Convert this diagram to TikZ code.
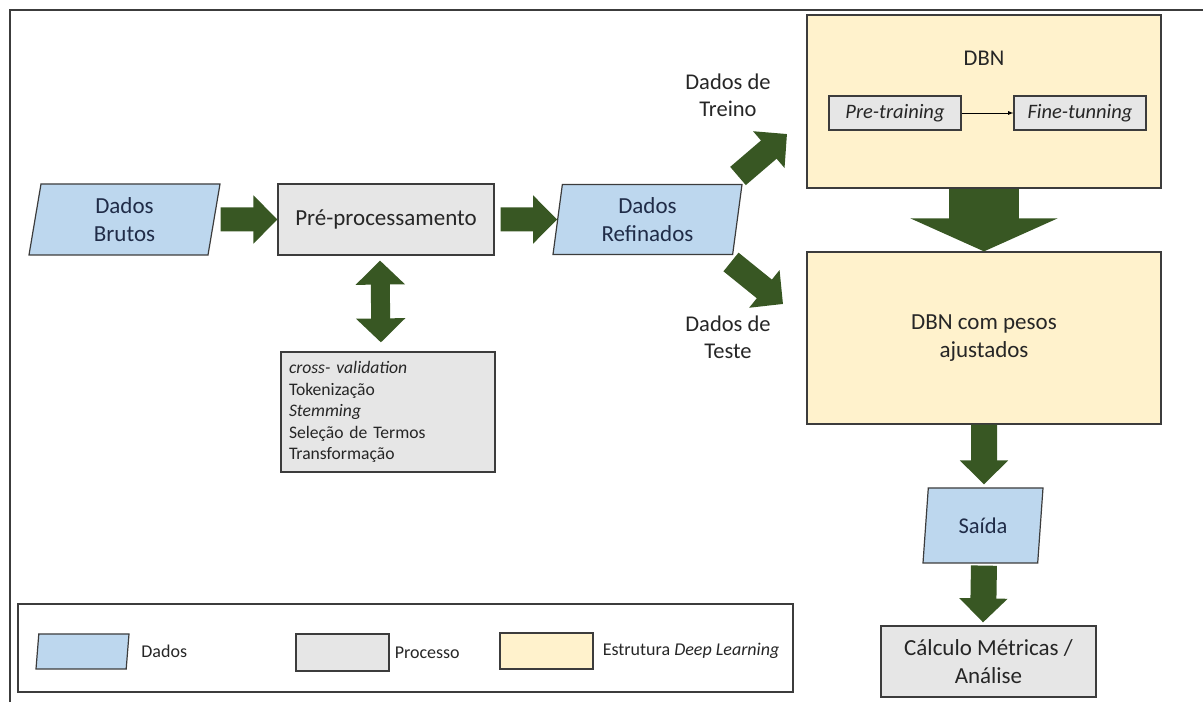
\documentclass[tikz,border=0pt]{standalone}
\usepackage{fontspec}
\setmainfont{Carlito}
\usepackage{tikz}
\usetikzlibrary{shapes.geometric, arrows, arrows.meta}
\definecolor{datablue}{RGB}{189,215,238}
\definecolor{procgray}{RGB}{230,230,230}
\definecolor{dlyellow}{RGB}{255,242,204}
\definecolor{arrowgreen}{RGB}{56,87,35}
\definecolor{edge}{RGB}{60,60,60}
\definecolor{datatext}{RGB}{32,44,72}
\definecolor{textgray}{RGB}{38,38,38}
\tikzstyle{dados} = [trapezium, trapezium left angle=76, trapezium right angle=104, trapezium stretches body, minimum width=191pt, minimum height=71pt, inner sep=2pt, align=center, draw=edge, line width=1.2pt, fill=datablue, text=datatext, font=\fontsize{23}{28}\selectfont]
\tikzstyle{processo} = [rectangle, minimum width=216pt, minimum height=71pt, inner sep=2pt, align=center, draw=edge, line width=1.2pt, fill=procgray, text=textgray, font=\fontsize{23}{28}\selectfont]
\tikzstyle{estrutura} = [rectangle, minimum width=354pt, minimum height=173pt, inner sep=2pt, align=center, draw=edge, line width=1.2pt, fill=dlyellow, text=textgray, font=\fontsize{23}{28}\selectfont]
\tikzstyle{etapa} = [rectangle, minimum width=132pt, minimum height=34pt, inner sep=2pt, draw=edge, line width=1.2pt, fill=procgray, text=textgray, font=\fontsize{20.5}{24}\selectfont\itshape]
\tikzstyle{rotulo} = [align=center, text=textgray, font=\fontsize{22.5}{27}\selectfont]
\tikzstyle{legenda} = [anchor=west, inner sep=3pt, text=textgray, font=\fontsize{18}{21}\selectfont]
\tikzstyle{arrow} = [thick, ->, >=latex, draw=black]
\tikzstyle{fatarrow} = [draw=arrowgreen, line width=24pt, -{Triangle[width=47pt, length=24pt]}]
\tikzstyle{fatboth} = [draw=arrowgreen, line width=19pt, {Triangle[width=48pt, length=24pt]}-{Triangle[width=48pt, length=24pt]}]

\begin{document}
\begin{tikzpicture} [x=1pt, y=1pt, node distance=261.5pt]
        \useasboundingbox (0,0) rectangle (1203,702);
        % moldura
        \coordinate (frameA) at (10,0);
        \coordinate (frameB) at (10,692);
        \coordinate (frameC) at (1203,692);
        \draw[edge, line width=1.5pt] (frameA) -- (frameB) -- (frameC);

        \node (brutos) [dados] at (124.5,482.5) {Dados\\Brutos};
        \node (pre) [processo, right of=brutos] {Pré-processamento};
        \node (ref) [dados, right of=pre, trapezium left angle=79, trapezium right angle=101, minimum width=189pt, minimum height=70pt] {Dados\\Refinados};
        \node (cv) [processo, below of=pre, xshift=2pt, yshift=69pt, minimum width=214pt, minimum height=120pt, text width=198pt, inner sep=8pt, align=left, font=\fontsize{17.6}{21.5}\selectfont] {\textit{cross- validation}\\Tokenização\\\textit{Stemming}\\Seleção de Termos\\Transformação};

        \node (dbn) [estrutura, right of=ref, xshift=75pt, yshift=118pt] {};
        \node (dbnlbl) [rotulo] at ([yshift=-44pt]dbn.north) {DBN};
        \node (pt) [etapa] at ([xshift=-89pt, yshift=-11.5pt]dbn.center) {Pre-training};
        \node (ft) [etapa] at ([xshift=96pt, yshift=-11.5pt]dbn.center) {Fine-tunning};
        \node (dbnw) [estrutura, below of=dbn, yshift=25pt, minimum height=172pt] {DBN com pesos\\ajustados};
        \node (saida) [dados, below of=dbnw, xshift=-1pt, yshift=74pt, trapezium left angle=75, trapezium right angle=105, minimum width=120pt, minimum height=75pt, font=\fontsize{22.5}{27}\selectfont] {Saída};
        \node (calc) [processo, below of=saida, xshift=5.5pt, yshift=125.5pt, minimum width=215pt] {Cálculo Métricas /\\Análise};

        \node (treino) [rotulo] at (728,607) {Dados de\\Treino};
        \node (teste) [rotulo] at (728,365) {Dados de\\Teste};
        \coordinate (trA) at (738,526);
        \coordinate (trB) at (787,568);
        \coordinate (teA) at (731,440);
        \coordinate (teB) at (783,398);

        % legenda
        \node (lgbox) [rectangle, draw=edge, line width=1.2pt, minimum width=775pt, minimum height=88pt] at (405.5,54) {};
        \node (lgdados) [dados, trapezium left angle=55, trapezium right angle=125, minimum width=93pt, minimum height=35pt] at (82.5,50.5) {};
        \node (lgproc) [processo, minimum width=93pt, minimum height=37pt] at (342.5,49.5) {};
        \node (lgdl) [estrutura, minimum width=93pt, minimum height=36pt] at (546.5,51) {};
        \node (lgt1) [legenda] at ([xshift=10pt]lgdados.east) {Dados};
        \node (lgt2) [legenda] at ([xshift=2pt]lgproc.east) {Processo};
        \node (lgt3) [legenda] at ([xshift=6pt]lgdl.east) {Estrutura \textit{Deep Learning}};

        \draw[fatarrow, shorten <=6pt] (brutos) -- (pre);
        \draw[fatarrow, shorten <=6pt] (pre) -- (ref);
        \draw[fatboth, shorten <=5pt, shorten >=9pt] ([xshift=-6pt]pre.south) -- ([xshift=-7pt]cv.north);
        \draw[fatarrow] (trA) -- (trB);
        \draw[fatarrow] (teA) -- (teB);
        \draw[arrow] (pt) -- (ft);
        \draw[draw=arrowgreen, line width=70pt, -{Triangle[width=146pt, length=33pt]}] (dbn) -- (dbnw);
        \draw[fatarrow, line width=26pt, shorten >=3pt] (dbnw) -- ([xshift=1pt]saida.north);
        \draw[fatarrow, line width=26pt, shorten <=2pt, shorten >=3pt] ([xshift=1pt]saida.south) -- ([xshift=-5.5pt]calc.north);
    \end{tikzpicture}
\end{document}
